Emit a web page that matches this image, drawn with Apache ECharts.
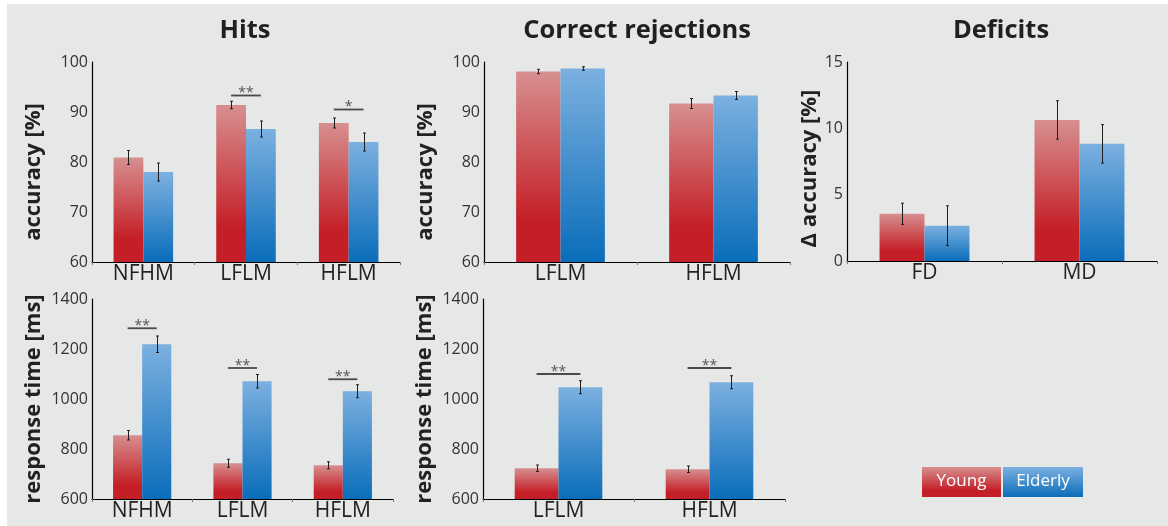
<!DOCTYPE html>
<html><head><meta charset="utf-8">
<script src="https://cdn.jsdelivr.net/npm/echarts@6/dist/echarts.min.js"></script>
<style>
html,body{margin:0;padding:0;background:#fff}
#c{position:absolute;left:0;top:0;width:1168px;height:526px;background:#e6e7e7;box-shadow:inset 7px 4px 0 0 #fff;}
</style></head><body><div id="c"></div>
<script>
// ---------- data ----------
const titles = ['Hits', 'Correct rejections', 'Deficits'];
const legendLabels = ['Young', 'Elderly'];

const hitsCategories = ['NFHM', 'LFLM', 'HFLM'];
const hitsAccYoung = [80.9, 91.4, 87.8];
const hitsAccYoungErr = [1.4, 0.75, 1.0];
const hitsAccElderly = [78.0, 86.6, 84.0];
const hitsAccElderlyErr = [1.8, 1.6, 1.8];
const hitsAccSigLevel = [null, 93.3, 90.5];
const hitsAccSigLabel = ['', '**', '*'];

const crCategories = ['LFLM', 'HFLM'];
const crAccYoung = [98.1, 91.7];
const crAccYoungErr = [0.45, 1.0];
const crAccElderly = [98.7, 93.3];
const crAccElderlyErr = [0.35, 0.8];
const crAccSigLevel = [null, null];
const crAccSigLabel = ['', ''];

const defCategories = ['FD', 'MD'];
const defYoung = [3.56, 10.63];
const defYoungErr = [0.8, 1.45];
const defElderly = [2.66, 8.83];
const defElderlyErr = [1.5, 1.45];
const defSigLevel = [null, null];
const defSigLabel = ['', ''];

const hitsRtYoung = [855, 743, 735];
const hitsRtYoungErr = [19, 16, 14];
const hitsRtElderly = [1219, 1071, 1031];
const hitsRtElderlyErr = [33, 27, 26];
const hitsRtSigLevel = [1283, 1124, 1079];
const hitsRtSigLabel = ['**', '**', '**'];

const crRtYoung = [723, 719];
const crRtYoungErr = [13, 13];
const crRtElderly = [1047, 1067];
const crRtElderlyErr = [26, 26];
const crRtSigLevel = [1100, 1124];
const crRtSigLabel = ['**', '**'];

// axis ranges [min, max, interval]
const accRange = [60, 100, 10];
const rtRange = [600, 1400, 200];
const deltaRange = [0, 15, 5];
const accName = 'accuracy [%]';
const rtName = 'response time [ms]';
const deltaName = '\u0394 accuracy [%]';

// ---------- styles ----------
const FONT = '"Open Sans", "DejaVu Sans", sans-serif';
const GAP = 0.42;
const redGrad = () => new echarts.graphic.LinearGradient(0, 0, 0, 1, [
  {offset: 0, color: '#d78f90'}, {offset: 0.78, color: '#c41f26'}, {offset: 1, color: '#c41f26'}]);
const blueGrad = () => new echarts.graphic.LinearGradient(0, 0, 0, 1, [
  {offset: 0, color: '#7cb0e0'}, {offset: 1, color: '#0a6dba'}]);

const grids = [
  {left: 92, top: 62, width: 308, height: 200},
  {left: 484, top: 62, width: 306, height: 200},
  {left: 847, top: 62, width: 310, height: 199},
  {left: 92, top: 299, width: 301, height: 200},
  {left: 483, top: 299, width: 302, height: 200}
];

function errRender(sign) {
  return function (params, api) {
    const i = api.value(0), v = api.value(1), e = api.value(2);
    const band = api.size([1, 0])[0];
    const bw = band * (1 - GAP) / 2;
    const cx = Math.round(api.coord([i, v])[0] + sign * bw / 2) + 0.5;
    const yt = api.coord([i, v + e])[1], yb = api.coord([i, v - e])[1];
    const st = {stroke: '#1e1e1e', lineWidth: 1};
    return {type: 'group', children: [
      {type: 'line', shape: {x1: cx, y1: yt, x2: cx, y2: yb}, style: st},
      {type: 'line', shape: {x1: cx - 1.5, y1: yt, x2: cx + 1.5, y2: yt}, style: st},
      {type: 'line', shape: {x1: cx - 1.5, y1: yb, x2: cx + 1.5, y2: yb}, style: st}
    ]};
  };
}
function sigRender(labels) {
  return function (params, api) {
    const i = api.value(0), lv = api.value(1);
    const band = api.size([1, 0])[0];
    const bw = band * (1 - GAP) / 2;
    const p = api.coord([i, lv]);
    const x1 = p[0] - bw / 2, x2 = p[0] + bw / 2;
    return {type: 'group', children: [
      {type: 'line', shape: {x1: x1, y1: p[1], x2: x2, y2: p[1]}, style: {stroke: '#4a4a4a', lineWidth: 1.8}},
      {type: 'text', x: p[0], y: p[1] - 2, style: {text: labels[params.dataIndex], fill: '#555', font: '14px ' + FONT, textAlign: 'center', textVerticalAlign: 'middle'}}
    ]};
  };
}

const xAxes = [], yAxes = [], series = [];
function panel(g, cats, young, youngErr, elderly, elderlyErr, sigLevel, sigLabel, range, name, nameGap, namePad) {
  xAxes.push({type: 'category', gridIndex: g, data: cats,
    axisLine: {lineStyle: {color: '#000', width: 1.2}},
    axisTick: {show: true, length: 3, lineStyle: {color: '#777'}},
    axisLabel: {fontSize: 21, color: '#222', fontFamily: FONT, margin: 2}});
  yAxes.push({type: 'value', gridIndex: g, min: range[0], max: range[1], interval: range[2],
    splitLine: {show: false},
    axisLine: {show: true, lineStyle: {color: '#000', width: 1.2}},
    axisTick: {show: false},
    axisLabel: {fontSize: 16, color: '#333', fontFamily: FONT, margin: 4, formatter: v => String(v)},
    name: name, nameLocation: 'middle', nameRotate: 90, nameGap: nameGap,
    nameTextStyle: {fontSize: 22, fontWeight: 'bold', color: '#222', fontFamily: FONT, padding: namePad}});
  series.push({type: 'bar', name: legendLabels[0], xAxisIndex: g, yAxisIndex: g, data: young,
    barGap: '0%', barCategoryGap: (GAP * 100) + '%', itemStyle: {color: redGrad()}, silent: true});
  series.push({type: 'bar', name: legendLabels[1], xAxisIndex: g, yAxisIndex: g, data: elderly,
    barGap: '0%', barCategoryGap: (GAP * 100) + '%', itemStyle: {color: blueGrad()}, silent: true});
  series.push({type: 'custom', xAxisIndex: g, yAxisIndex: g, z: 10, silent: true, encode: {x: 0, y: 1},
    data: young.map((v, i) => [i, v, youngErr[i]]), renderItem: errRender(-1)});
  series.push({type: 'custom', xAxisIndex: g, yAxisIndex: g, z: 10, silent: true, encode: {x: 0, y: 1},
    data: elderly.map((v, i) => [i, v, elderlyErr[i]]), renderItem: errRender(1)});
  const sd = [], sl = [];
  sigLevel.forEach((lv, i) => { if (lv != null) { sd.push([i, lv]); sl.push(sigLabel[i]); } });
  if (sd.length) series.push({type: 'custom', xAxisIndex: g, yAxisIndex: g, z: 10, silent: true, encode: {x: 0, y: 1},
    data: sd, renderItem: sigRender(sl)});
}

panel(0, hitsCategories, hitsAccYoung, hitsAccYoungErr, hitsAccElderly, hitsAccElderlyErr, hitsAccSigLevel, hitsAccSigLabel, accRange, accName, 47, [0, 20, 0, 0]);
panel(1, crCategories, crAccYoung, crAccYoungErr, crAccElderly, crAccElderlyErr, crAccSigLevel, crAccSigLabel, accRange, accName, 47, [0, 20, 0, 0]);
panel(2, defCategories, defYoung, defYoungErr, defElderly, defElderlyErr, defSigLevel, defSigLabel, deltaRange, deltaName, 26, [0, 14, 0, 0]);
panel(3, hitsCategories, hitsRtYoung, hitsRtYoungErr, hitsRtElderly, hitsRtElderlyErr, hitsRtSigLevel, hitsRtSigLabel, rtRange, rtName, 47, 0);
panel(4, crCategories, crRtYoung, crRtYoungErr, crRtElderly, crRtElderlyErr, crRtSigLevel, crRtSigLabel, rtRange, rtName, 47, 0);

const titleX = [245, 637, 1001];
const graphic = titles.map((t, i) => ({type: 'text', x: titleX[i], y: 31,
  style: {text: t, font: 'bold 25.5px ' + FONT, fill: '#231f20', textAlign: 'center', textVerticalAlign: 'middle'}}));
const legendX = [922, 1003], legendW = [79, 80];
legendLabels.forEach((lab, i) => {
  graphic.push({type: 'rect', shape: {x: legendX[i], y: 467, width: legendW[i], height: 30},
    style: {fill: i === 0 ? redGrad() : blueGrad()}});
  graphic.push({type: 'text', x: legendX[i] + legendW[i] / 2, y: 481,
    style: {text: lab, font: '17px ' + FONT, fill: '#fff', textAlign: 'center', textVerticalAlign: 'middle'}});
});

const chart = echarts.init(document.getElementById('c'), null, {renderer: 'canvas'});
chart.setOption({
  backgroundColor: 'transparent',
  animation: false,
  grid: grids,
  xAxis: xAxes,
  yAxis: yAxes,
  series: series,
  graphic: graphic
});
</script>
</body></html>
